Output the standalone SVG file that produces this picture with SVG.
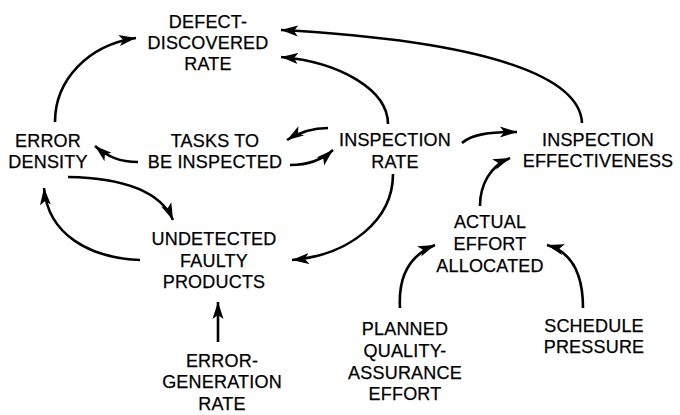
<svg xmlns="http://www.w3.org/2000/svg" width="680" height="415" viewBox="0 0 680 415">
<style>
text{font-family:"Liberation Sans",Arial,sans-serif;font-size:18px;fill:#000;stroke:#000;stroke-width:0.25;text-anchor:middle;letter-spacing:0.2px}
.c{fill:none;stroke:#000;stroke-width:2.6;marker-end:url(#ah)}
</style>
<defs>
<marker id="ah" markerUnits="userSpaceOnUse" markerWidth="19" markerHeight="12" refX="17" refY="5.5" orient="auto" viewBox="0 0 19 11">
<path d="M0,0 L17,5.5 L0,11 L4,5.5 Z" fill="#000"/>
</marker>
</defs>
<rect width="680" height="415" fill="#fff"/>
<g id="connectors">
<path class="c" d="M55,122 C55,80 88,45 136,38"/>
<path class="c" d="M388,124 C388,90 340,62 281,57"/>
<path class="c" d="M582,123 C580,80 500,42 281,30"/>
<path class="c" d="M138,162 C120,162 108,157 95,146"/>
<path class="c" d="M328,128 C312,128 298,133 287,140"/>
<path class="c" d="M290,165 C308,165 322,160 333,150"/>
<path class="c" d="M462,143 C472,134 490,132 517,132"/>
<path class="c" d="M480,206 C480,185 490,166 510,158"/>
<path class="c" d="M68,177 C120,178 160,190 173,220"/>
<path class="c" d="M140,260 C90,258 48,235 44,188"/>
<path class="c" d="M393,174 C393,220 350,255 292,260"/>
<path class="c" d="M218,342 L218,302"/>
<path class="c" d="M400,308 C398,275 410,255 435,245"/>
<path class="c" d="M583,308 C583,275 572,252 547,245"/>
</g>
<g id="defect-discovered-rate"><text x="208" y="28">DEFECT-</text><text x="208" y="49">DISCOVERED</text><text x="208" y="70">RATE</text></g>
<g id="error-density"><text x="48" y="147">ERROR</text><text x="48" y="168">DENSITY</text></g>
<g id="tasks-to-be-inspected"><text x="215" y="147">TASKS TO</text><text x="215" y="168">BE INSPECTED</text></g>
<g id="inspection-rate"><text x="395" y="146">INSPECTION</text><text x="395" y="168">RATE</text></g>
<g id="inspection-effectiveness"><text x="598" y="146">INSPECTION</text><text x="598" y="167">EFFECTIVENESS</text></g>
<g id="undetected-faulty-products"><text x="214" y="245">UNDETECTED</text><text x="214" y="267">FAULTY</text><text x="214" y="288">PRODUCTS</text></g>
<g id="error-generation-rate"><text x="222" y="367">ERROR-</text><text x="222" y="388">GENERATION</text><text x="222" y="410">RATE</text></g>
<g id="actual-effort-allocated"><text x="490" y="228">ACTUAL</text><text x="490" y="250">EFFORT</text><text x="490" y="272">ALLOCATED</text></g>
<g id="planned-qa-effort"><text x="405" y="335">PLANNED</text><text x="405" y="357">QUALITY-</text><text x="405" y="379">ASSURANCE</text><text x="405" y="400">EFFORT</text></g>
<g id="schedule-pressure"><text x="594" y="332">SCHEDULE</text><text x="594" y="353">PRESSURE</text></g>
</svg>
